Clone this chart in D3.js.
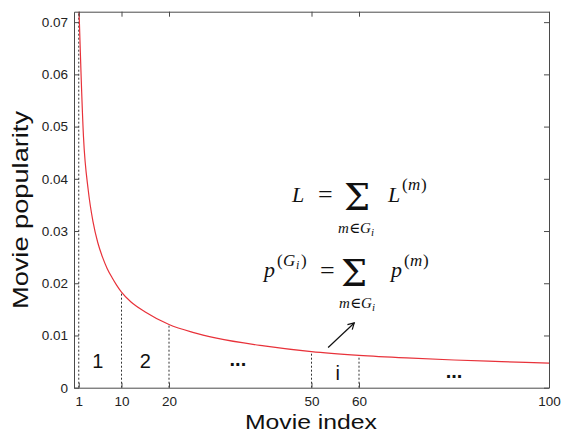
<!DOCTYPE html>
<html>
<head>
<meta charset="utf-8">
<script src="https://cdn.jsdelivr.net/npm/d3@7"></script>
<style>
  html, body { margin: 0; padding: 0; background: #fff; }
  svg { display: block; }
  .sans { font-family: "Liberation Sans", Arial, Helvetica, sans-serif; }
  .serif { font-family: "Liberation Serif", "DejaVu Serif", "Times New Roman", serif; }
</style>
</head>
<body>
<svg id="chart" width="562" height="434"></svg>
<script>
// --- data ---
const movieIndex = [1, 2, 3, 4, 5, 6, 7, 8, 9, 10, 12, 15, 20, 25, 30, 40, 50, 60, 70, 80, 90, 100];
const popularity = [0.074, 0.048, 0.0378, 0.0318, 0.0278, 0.0250, 0.0228, 0.0211, 0.0196, 0.0183,
                    0.0164, 0.0145, 0.0121, 0.0106, 0.0095, 0.0080, 0.0069, 0.0062, 0.0057, 0.0053, 0.0050, 0.0047];

const groupBounds = [1, 10, 20, 50, 60];
const groupLabels = ["1", "2", "...", "i", "..."];
const groupLabelIndex = [5, 15, 34.5, 55.5, 80];
const groupLabelValue = [0.0037, 0.0037, 0.0042, 0.0015, 0.0019];

const xTicks = [1, 10, 20, 50, 60, 100];
const yTicks = [0, 0.01, 0.02, 0.03, 0.04, 0.05, 0.06, 0.07];
const yTickLabels = ["0", "0.01", "0.02", "0.03", "0.04", "0.05", "0.06", "0.07"];

const xDomain = [0, 100];
const yDomain = [0, 0.072];

// --- layout ---
const svg = d3.select("#chart");
const plotLeft = 74, plotRight = 549, plotTop = 11.7, plotBottom = 387.7;
const frameColor = "#4a4a4a";

const x = d3.scaleLinear().domain(xDomain).range([plotLeft, plotRight]);
const y = d3.scaleLinear().domain(yDomain).range([plotBottom, plotTop]);

svg.append("defs").append("clipPath").attr("id", "plot-clip")
  .append("rect").attr("x", plotLeft).attr("y", plotTop)
  .attr("width", plotRight - plotLeft).attr("height", plotBottom - plotTop);

// dashed group boundaries
const valAt = i => popularity[movieIndex.indexOf(i)];
svg.append("g").selectAll("line").data(groupBounds).enter().append("line")
  .attr("x1", d => x(d)).attr("x2", d => x(d))
  .attr("y1", y(0))
  .attr("y2", d => y(Math.min(valAt(d), yDomain[1])))
  .attr("stroke", "#333").attr("stroke-width", 1).attr("stroke-dasharray", "2,2");

// curve
const pts = movieIndex.map((m, i) => [m, popularity[i]]);
const line = d3.line().x(d => x(d[0])).y(d => y(d[1])).curve(d3.curveMonotoneX);
svg.append("path").datum(pts)
  .attr("clip-path", "url(#plot-clip)")
  .attr("d", line)
  .attr("fill", "none").attr("stroke", "#e8323a").attr("stroke-width", 1.2);

// axes (MATLAB-style box, inward ticks)
function styleAxis(g) {
  g.selectAll("path.domain").attr("stroke", frameColor);
  g.selectAll(".tick line").attr("stroke", frameColor);
  g.selectAll(".tick text").attr("fill", "#222").attr("font-size", 13.5)
    .attr("font-family", "'Liberation Sans', Arial, Helvetica, sans-serif");
}
svg.append("g").attr("transform", `translate(0,${plotBottom})`)
  .call(d3.axisBottom(x).tickValues(xTicks).tickSizeInner(-5).tickSizeOuter(0).tickPadding(9))
  .call(styleAxis);
svg.append("g").attr("transform", `translate(${plotLeft},0)`)
  .call(d3.axisLeft(y).tickValues(yTicks).tickFormat((d, i) => yTickLabels[i]).tickSizeInner(-5).tickSizeOuter(0).tickPadding(6))
  .call(styleAxis);
svg.append("g").attr("transform", `translate(0,${plotTop})`)
  .call(d3.axisTop(x).tickValues(xTicks).tickFormat("").tickSizeInner(-5).tickSizeOuter(0))
  .call(styleAxis);
svg.append("g").attr("transform", `translate(${plotRight},0)`)
  .call(d3.axisRight(y).tickValues(yTicks).tickFormat("").tickSizeInner(-5).tickSizeOuter(0))
  .call(styleAxis);

// axis titles
svg.append("text").attr("class", "sans")
  .attr("x", 311).attr("y", 429)
  .attr("text-anchor", "middle").attr("font-size", 21).attr("fill", "#111")
  .attr("textLength", 132).attr("lengthAdjust", "spacingAndGlyphs")
  .text("Movie index");
svg.append("text").attr("class", "sans")
  .attr("transform", "translate(28,210) rotate(-90)")
  .attr("text-anchor", "middle").attr("font-size", 22).attr("fill", "#111")
  .attr("textLength", 198).attr("lengthAdjust", "spacingAndGlyphs")
  .text("Movie popularity");

// group labels
svg.append("g").selectAll("text").data(groupLabels).enter().append("text")
  .attr("class", "sans")
  .attr("x", (d, i) => x(groupLabelIndex[i]))
  .attr("y", (d, i) => y(groupLabelValue[i]))
  .attr("text-anchor", "middle")
  .attr("font-size", 20)
  .attr("font-weight", d => d === "..." ? "bold" : "normal")
  .attr("fill", "#111")
  .text(d => d);

// arrow
const a0 = [x(53.5), y(0.0077)], a1 = [x(59), y(0.0124)];
const ang = Math.atan2(a1[1] - a0[1], a1[0] - a0[0]);
const head = 7, spread = Math.PI / 6;
const arrow = svg.append("g").attr("stroke", "#111").attr("stroke-width", 1.2).attr("fill", "none");
arrow.append("line").attr("x1", a0[0]).attr("y1", a0[1]).attr("x2", a1[0]).attr("y2", a1[1]);
arrow.append("path").attr("d", d3.line()([
  [a1[0] - head * Math.cos(ang - spread), a1[1] - head * Math.sin(ang - spread)],
  a1,
  [a1[0] - head * Math.cos(ang + spread), a1[1] - head * Math.sin(ang + spread)]
]));

// equations: each one is a single <text>, pieces placed with tspans
// piece: [text, x, y, size, italic, family]
function equation(pieces) {
  const t = svg.append("text").attr("class", "serif").attr("fill", "#111");
  pieces.forEach(p => {
    t.append("tspan")
      .attr("x", p[1]).attr("y", p[2])
      .attr("font-size", p[3])
      .attr("font-style", p[4] ? "italic" : "normal")
      .attr("font-family", p[5] || null)
      .text(p[0]);
  });
}
const sigmaFont = "'DejaVu Serif', 'Liberation Serif', serif";

// L = sum_{m in G_i} L^(m)
equation([
  ["L", 292, 201.5, 22, true],
  ["=", 318, 203, 26, false],
  ["Σ", 344, 210, 37, false, sigmaFont],
  ["m", 338, 233, 15, true],
  ["∈", 349, 233, 15, false],
  ["G", 360, 233, 15, true],
  ["i", 371, 236, 11, true],
  ["L", 388, 201.5, 22, true],
  ["(", 402, 190, 17, false],
  ["m", 408, 190, 17, true],
  [")", 421, 190, 17, false]
]);

// p^(G_i) = sum_{m in G_i} p^(m)
equation([
  ["p", 264, 277, 22, true],
  ["(", 277, 265.5, 17, false],
  ["G", 283, 265.5, 17, true],
  ["i", 296, 268.5, 12, true],
  [")", 301, 265.5, 17, false],
  ["=", 320, 278.5, 26, false],
  ["Σ", 341, 285.5, 37, false, sigmaFont],
  ["m", 339, 308, 15, true],
  ["∈", 350, 308, 15, false],
  ["G", 361, 308, 15, true],
  ["i", 372, 311, 11, true],
  ["p", 391, 277, 22, true],
  ["(", 404, 266, 17, false],
  ["m", 410, 266, 17, true],
  [")", 423, 266, 17, false]
]);
</script>
</body>
</html>
